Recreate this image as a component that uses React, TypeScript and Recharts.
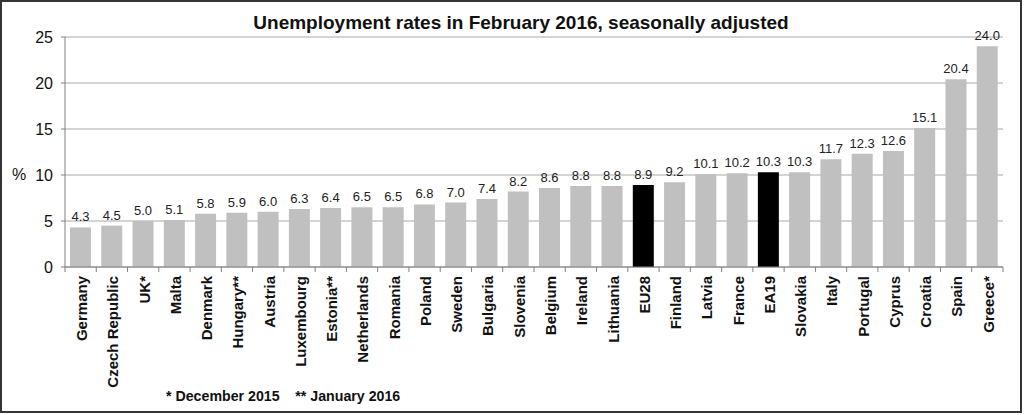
import React from 'react';
import { BarChart, Bar, XAxis, YAxis, CartesianGrid, Cell, LabelList } from 'recharts';

const countries = [
  'Germany', 'Czech Republic', 'UK*', 'Malta', 'Denmark', 'Hungary**', 'Austria', 'Luxembourg',
  'Estonia**', 'Netherlands', 'Romania', 'Poland', 'Sweden', 'Bulgaria', 'Slovenia', 'Belgium',
  'Ireland', 'Lithuania', 'EU28', 'Finland', 'Latvia', 'France', 'EA19', 'Slovakia', 'Italy',
  'Portugal', 'Cyprus', 'Croatia', 'Spain', 'Greece*',
];
const rates = [
  4.3, 4.5, 5.0, 5.1, 5.8, 5.9, 6.0, 6.3, 6.4, 6.5, 6.5, 6.8, 7.0, 7.4, 8.2, 8.6,
  8.8, 8.8, 8.9, 9.2, 10.1, 10.2, 10.3, 10.3, 11.7, 12.3, 12.6, 15.1, 20.4, 24.0,
];
const highlighted = ['EU28', 'EA19'];
const yTicks = [0, 5, 10, 15, 20, 25];
const title = 'Unemployment rates in February 2016, seasonally adjusted';
const footnote = '* December 2015\u00a0\u00a0\u00a0\u00a0** January 2016';
const yUnit = '%';

const data = countries.map((name, i) => ({ name, value: rates[i] }));

const W = 1024;
const H = 415;
const M = { top: 37, right: 21, left: 0, bottom: 0 };
const Y_W = 65;
const X_H = 148;
const STEP = (W - M.left - M.right - Y_W) / countries.length;
const FONT = 'Arial, "Liberation Sans", Helvetica, sans-serif';

const XTick = (props: any) => {
  const { x, y, payload, index } = props;
  const isLast = index === countries.length - 1;
  return (
    <g>
      <line x1={x - STEP / 2} y1={y} x2={x - STEP / 2} y2={y + 5} stroke="#808080" strokeWidth={1} />
      {isLast && <line x1={x + STEP / 2} y1={y} x2={x + STEP / 2} y2={y + 5} stroke="#808080" strokeWidth={1} />}
      <text
        x={x + 1}
        y={y + 9}
        dy="0.36em"
        transform={`rotate(-90, ${x + 1}, ${y + 9})`}
        textAnchor="end"
        fontFamily={FONT}
        fontWeight="bold"
        fontSize={15}
        fill="#111"
      >
        {payload.value}
      </text>
    </g>
  );
};

export default function App() {
  return (
    <div style={{ position: 'absolute', left: 0, top: 0, width: W, height: H, background: '#fff', fontFamily: FONT }}>
      <div
        style={{
          position: 'absolute', left: 0, top: 0, width: W - 2, height: H - 2,
          border: '2px solid #353535', boxSizing: 'border-box',
        }}
      />
      <div
        style={{
          position: 'absolute', left: 0, top: 12, width: 1042, textAlign: 'center',
          fontSize: 19, fontWeight: 'bold', color: '#111', lineHeight: '22px',
        }}
      >
        {title}
      </div>
      <div style={{ position: 'absolute', left: 12, top: 165, fontSize: 16, color: '#111', lineHeight: '20px' }}>
        {yUnit}
      </div>
      <div
        style={{
          position: 'absolute', left: 166, top: 387, fontSize: 14.2, fontWeight: 'bold', color: '#111',
          lineHeight: '18px', whiteSpace: 'pre',
        }}
      >
        {footnote}
      </div>
      <div style={{ position: 'absolute', left: 0, top: 0 }}>
        <BarChart width={W} height={H} data={data} margin={M} barCategoryGap="16%">
          <CartesianGrid horizontal vertical={false} stroke="#a8a8a8" />
          <XAxis
            dataKey="name"
            interval={0}
            height={X_H}
            tickLine={false}
            tickSize={0}
            tickMargin={0}
            axisLine={{ stroke: '#808080' }}
            tick={<XTick />}
          />
          <YAxis
            width={Y_W}
            domain={[0, 25]}
            ticks={yTicks}
            interval={0}
            tickSize={4}
            tickMargin={8}
            axisLine={{ stroke: '#808080' }}
            tickLine={{ stroke: '#808080' }}
            tick={{ fontSize: 16, fill: '#111', fontFamily: FONT }}
          />
          <Bar dataKey="value" isAnimationActive={false}>
            {data.map((d) => (
              <Cell key={d.name} fill={highlighted.includes(d.name) ? '#000000' : '#c0c0c0'} />
            ))}
            <LabelList
              dataKey="value"
              position="top"
              offset={6}
              formatter={(v: any) => Number(v).toFixed(1)}
              style={{ fontSize: 13, fill: '#222', fontFamily: FONT }}
            />
          </Bar>
        </BarChart>
      </div>
    </div>
  );
}
